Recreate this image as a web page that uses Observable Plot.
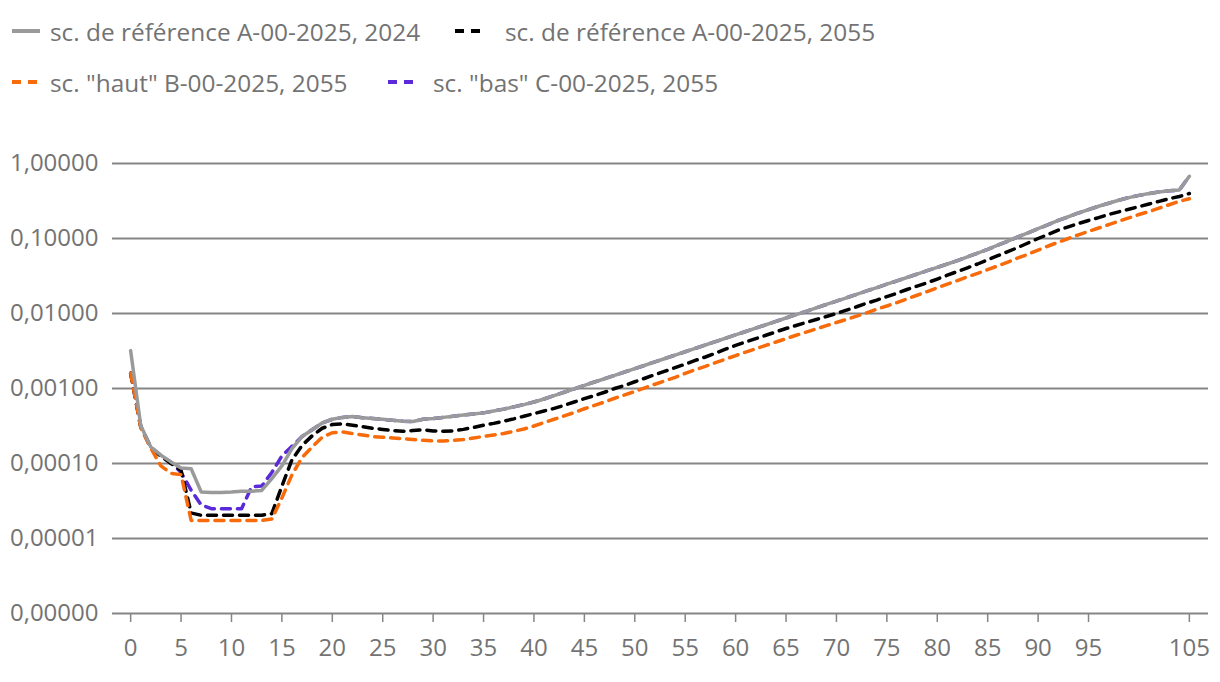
<!DOCTYPE html>
<html><head><meta charset="utf-8">
<script src="https://cdn.jsdelivr.net/npm/d3@7"></script>
<script src="https://cdn.jsdelivr.net/npm/@observablehq/plot@0.6"></script>
<style>
body{margin:0;background:#fff;font-family:"Open Sans",sans-serif;}
#legend{position:relative;height:110px;width:1220px;}
.item{position:absolute;display:flex;align-items:center;height:32px;font-size:24.4px;color:#737373;white-space:nowrap;}
.item svg{display:block;}
</style></head><body>
<div id="legend"></div><div id="chart"></div>
<script>
const ages = [0,1,2,3,4,5,6,7,8,9,10,11,12,13,14,15,16,17,18,19,20,21,22,23,24,25,26,27,28,29,30,31,32,33,34,35,36,37,38,39,40,41,42,43,44,45,46,47,48,49,50,51,52,53,54,55,56,57,58,59,60,61,62,63,64,65,66,67,68,69,70,71,72,73,74,75,76,77,78,79,80,81,82,83,84,85,86,87,88,89,90,91,92,93,94,95,96,97,98,99,100,101,102,103,104,105];

// sc. de référence A-00-2025, 2024
const rateRef2024 = [
 0.0032,0.00032,0.000166,0.000129,0.000105,0.000087,0.000085,0.0000417,0.0000412,0.0000412,
 0.0000417,0.0000427,0.0000427,0.0000437,0.000063,0.000093,0.000158,0.000229,0.000282,0.000347,
 0.000389,0.000412,0.000422,0.000407,0.000398,0.000389,0.000376,0.000367,0.000363,0.000389,
 0.000398,0.000412,0.000427,0.000442,0.000457,0.000473,0.000501,0.000531,0.000569,0.00061,
 0.000661,0.000724,0.000804,0.000891,0.000989,0.0011,0.00122,0.00135,0.0015,0.00166,
 0.00184,0.00204,0.00227,0.00251,0.00279,0.00309,0.00343,0.0038,0.00422,0.00468,
 0.00519,0.00575,0.00638,0.00708,0.00785,0.00871,0.00966,0.0107,0.0119,0.0132,
 0.0146,0.0162,0.018,0.02,0.0221,0.0246,0.0272,0.0302,0.0335,0.0372,
 0.0412,0.0457,0.0507,0.0569,0.0638,0.0716,0.0813,0.0923,0.105,0.119,
 0.135,0.153,0.174,0.195,0.219,0.243,0.269,0.295,0.324,0.351,
 0.376,0.398,0.417,0.432,0.442,0.676];

// sc. de référence A-00-2025, 2055
const rateRef2055 = [
 0.0016,0.00031,0.000162,0.000125,0.0001,0.000081,0.0000219,0.0000204,0.0000204,0.0000204,
 0.0000204,0.0000204,0.0000204,0.0000204,0.0000214,0.00005,0.000112,0.000174,0.000234,0.000295,
 0.000331,0.000339,0.000324,0.000309,0.000295,0.000285,0.000275,0.000269,0.000275,0.000282,
 0.000272,0.000269,0.000272,0.000285,0.000302,0.000324,0.000343,0.000367,0.000394,0.000427,
 0.000462,0.000501,0.000543,0.000596,0.000661,0.000733,0.000804,0.000891,0.001,0.0011,
 0.00123,0.00137,0.00153,0.0017,0.0019,0.00211,0.00237,0.00263,0.00295,0.00335,
 0.00376,0.00417,0.00462,0.00513,0.00569,0.00631,0.00692,0.00759,0.00832,0.00912,
 0.01,0.0111,0.0123,0.0137,0.0151,0.0168,0.0186,0.0209,0.0232,0.0257,
 0.0288,0.0324,0.0363,0.0407,0.0457,0.0519,0.0589,0.0668,0.0759,0.0871,
 0.1,0.1135,0.129,0.143,0.1585,0.174,0.19,0.209,0.2265,0.2455,
 0.266,0.288,0.313,0.339,0.363,0.398];

// sc. "haut" B-00-2025, 2055
const rateHaut = [
 0.0016,0.0003,0.00016,0.000093,0.000074,0.000071,0.0000174,0.0000174,0.0000174,0.0000174,
 0.0000174,0.0000174,0.0000174,0.0000174,0.0000182,0.0000347,0.0000708,0.00012,0.000166,0.000224,
 0.000257,0.000263,0.000251,0.00024,0.000229,0.000224,0.000219,0.000214,0.000209,0.000204,
 0.0002,0.0002,0.000204,0.000209,0.000219,0.000229,0.00024,0.000251,0.000269,0.000288,
 0.000316,0.000351,0.000389,0.000432,0.000479,0.000537,0.000596,0.000661,0.000741,0.000822,
 0.000912,0.00102,0.00114,0.00127,0.00141,0.00159,0.00178,0.00197,0.00221,0.00246,
 0.00275,0.00306,0.00339,0.00376,0.00417,0.00462,0.00513,0.00565,0.00624,0.00689,
 0.00759,0.00836,0.00923,0.0102,0.0114,0.0126,0.014,0.0157,0.0175,0.0196,
 0.022,0.0246,0.0275,0.0309,0.0343,0.0385,0.0432,0.0484,0.055,0.0617,
 0.07,0.0794,0.0891,0.1,0.112,0.1245,0.138,0.153,0.17,0.188,
 0.209,0.229,0.254,0.282,0.313,0.339];

// sc. "bas" C-00-2025, 2055
const rateBas = [
 0.0016,0.00031,0.000164,0.000128,0.000104,0.000076,0.000044,0.000028,0.000025,0.000025,
 0.000025,0.000025,0.000049,0.00005,0.000076,0.000126,0.00017,0.000229,0.000282,0.000347,
 0.000389,0.000412,0.000422,0.000407,0.000398,0.000389,0.000376,0.000367,0.000363,0.000389,
 0.000398,0.000412,0.000427,0.000442,0.000457,0.000473,0.000501,0.000531,0.000569,0.00061,
 0.000661,0.000724,0.000804,0.000891,0.000989,0.0011,0.00122,0.00135,0.0015,0.00166,
 0.00184,0.00204,0.00227,0.00251,0.00279,0.00309,0.00343,0.0038,0.00422,0.00468,
 0.00519,0.00575,0.00638,0.00708,0.00785,0.00871,0.00966,0.0107,0.0119,0.0132,
 0.0146,0.0162,0.018,0.02,0.0221,0.0246,0.0272,0.0302,0.0335,0.0372,
 0.0412,0.0457,0.0507,0.0569,0.0638,0.0716,0.0813,0.0923,0.105,0.119,
 0.135,0.153,0.174,0.195,0.219,0.243,0.269,0.295,0.324,0.351,
 0.376,0.398,0.417,0.432,0.442,0.676];

const xTicks = [0,5,10,15,20,25,30,35,40,45,50,55,60,65,70,75,80,85,90,95,105];
const yTicks = [0.000001,0.00001,0.0001,0.001,0.01,0.1,1];
const yTickLabels = ["0,00000","0,00001","0,00010","0,00100","0,01000","0,10000","1,00000"];

const seriesNames = ["sc. de référence A-00-2025, 2024","sc. de référence A-00-2025, 2055","sc. \"haut\" B-00-2025, 2055","sc. \"bas\" C-00-2025, 2055"];
const seriesColors = ["#9a9a9a","#000000","#f76b0a","#5a2ad8"];

// legend
const legendPos = [
  {x:12,y:31,w:28,gap:10,solid:true},
  {x:455,y:31,w:30,gap:20,solid:false},
  {x:12,y:82,w:28,gap:10,solid:false},
  {x:388,y:82,w:27,gap:18,solid:false}
];
const legend = document.getElementById("legend");
seriesNames.forEach((name,i)=>{
  const p = legendPos[i];
  const div = document.createElement("div");
  div.className = "item";
  div.style.left = p.x+"px";
  div.style.top = (p.y-16)+"px";
  const dash = p.solid ? "" : `stroke-dasharray="9,7"`;
  div.innerHTML = `<svg width="${p.w}" height="10" style="margin-right:${p.gap}px"><line x1="0" x2="${p.w}" y1="5" y2="5" stroke="${seriesColors[i]}" stroke-width="4" ${dash}/></svg><span>${name.replace(/"/g,"&quot;")}</span>`;
  legend.appendChild(div);
});

const toRows = vals => ages.map((a,i)=>({age:a, v:vals[i]}));
const labelMap = new Map(yTicks.map((t,i)=>[t,yTickLabels[i]]));

const drawOrder = [
  {vals:rateBas, color:seriesColors[3], dash:"9,7"},
  {vals:rateRef2055, color:seriesColors[1], dash:"9,7"},
  {vals:rateHaut, color:seriesColors[2], dash:"9,7"},
  {vals:rateRef2024, color:seriesColors[0], dash:null}
];

const chart = Plot.plot({
  width:1220, height:572,
  marginTop:53, marginBottom:69, marginLeft:112, marginRight:12,
  style:{fontFamily:"Open Sans", fontSize:"24px", background:"#fff"},
  x:{domain:[-1.8,106.9], label:null},
  y:{type:"log", domain:[0.000001,1], label:null},
  marks:[
    Plot.ruleY(yTicks,{stroke:"#858585", strokeWidth:2}),
    ...drawOrder.map(s=>Plot.line(toRows(s.vals),{x:"age", y:"v", stroke:s.color, strokeWidth:3.5, strokeDasharray:s.dash, strokeLinejoin:"round"})),
    Plot.axisY(yTicks,{tickFormat:d=>labelMap.get(d), tickSize:0, tickPadding:14, fill:"#737373", fontSize:24, label:null}),
    Plot.axisX(xTicks,{tickFormat:d=>String(d), tickSize:9, tickPadding:16, stroke:"#858585", strokeWidth:1.5, fill:"#737373", fontSize:24, label:null})
  ]
});
document.getElementById("chart").appendChild(chart);
</script>
</body></html>
